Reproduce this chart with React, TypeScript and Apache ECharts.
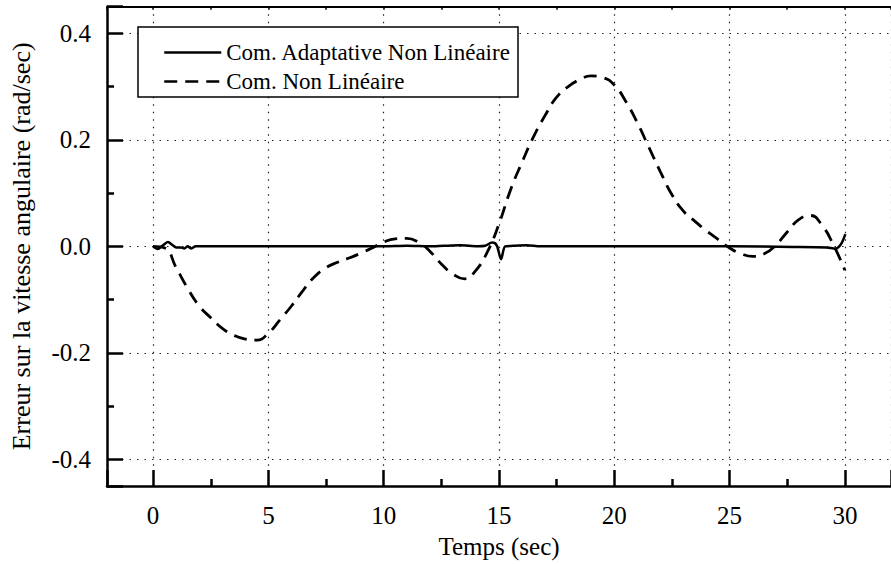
import React, { useEffect, useRef } from "react";
import * as echarts from "echarts";

const FONT = "Liberation Serif";

const seriesNames = ["Com. Adaptative Non Linéaire", "Com. Non Linéaire"];

// Com. Adaptative Non Linéaire (solid)
const adaptT = [0, 0.2, 0.4, 0.64, 0.85, 1.0, 1.2, 1.35, 1.5, 1.64, 1.85, 2.2, 5, 10, 11, 12, 12.6, 13.3, 13.7, 14.1, 14.4, 14.7, 14.9, 15.09, 15.27, 15.6, 16.2, 16.8, 20, 25, 27.8, 29.2, 29.6, 29.83, 30.02];
const adaptV = [0, -0.005, 0.001, 0.008, 0.002, -0.002, -0.002, -0.004, 0, -0.004, 0, 0, 0, 0, 0.001, 0, 0.001, 0.002, 0.001, 0, 0.001, 0.007, 0.002, -0.024, 0, 0.001, 0.002, 0, 0, 0, -0.001, -0.002, -0.004, 0.004, 0.023];

// Com. Non Linéaire (dashed)
const nonlinT = [0, 0.5, 1.0, 1.5, 2.0, 2.5, 3.0, 3.5, 4.0, 4.5, 5.0, 5.5, 6.0, 6.5, 7.0, 7.5, 8.0, 8.5, 9.0, 9.5, 10.0, 10.5, 11.0, 11.5, 12.0, 12.5, 13.0, 13.5, 14.0, 14.5, 15.0, 15.5, 16.0, 16.5, 17.0, 17.5, 18.0, 18.5, 19.0, 19.5, 20.0, 20.5, 21.0, 21.5, 22.0, 22.5, 23.0, 23.5, 24.0, 24.5, 25.0, 25.5, 26.0, 26.5, 27.0, 27.5, 28.0, 28.5, 29.0, 29.5, 30.0];
const nonlinV = [0, -0.003, -0.04, -0.079, -0.112, -0.134, -0.154, -0.167, -0.174, -0.176, -0.163, -0.138, -0.112, -0.083, -0.057, -0.04, -0.03, -0.022, -0.013, -0.003, 0.008, 0.014, 0.015, 0.008, -0.009, -0.033, -0.052, -0.061, -0.045, -0.01, 0.042, 0.106, 0.158, 0.206, 0.246, 0.28, 0.3, 0.313, 0.32, 0.317, 0.303, 0.272, 0.232, 0.186, 0.14, 0.097, 0.066, 0.047, 0.029, 0.013, -0.003, -0.014, -0.019, -0.014, 0.002, 0.027, 0.05, 0.058, 0.04, 0.003, -0.045];

const xTitle = "Temps (sec)";
const yTitle = "Erreur sur la vitesse angulaire (rad/sec)";

export default function App() {
  const ref = useRef<HTMLDivElement>(null);
  useEffect(() => {
    if (!ref.current) return;
    const chart = echarts.init(ref.current, null, { renderer: "svg" });
    const black = "#000";
    const grid = { type: [1.5, 6], color: "#222", width: 1.2 };
    chart.setOption({
      animation: false,
      backgroundColor: "#fff",
      grid: { left: 104.5, top: 6.7, right: -8, bottom: 76.3, containLabel: false },
      graphic: [
        {
          type: "rect",
          z: 3,
          shape: { x: 138, y: 27, width: 380, height: 70 },
          style: { fill: "#fff", stroke: black, lineWidth: 1.5 },
        },
      ],
      legend: {
        orient: "vertical",
        left: 163,
        top: 41,
        padding: 0,
        itemWidth: 57,
        itemHeight: 22,
        itemGap: 6,
        z: 5,
        data: seriesNames,
        lineStyle: { width: 2.5 },
        itemStyle: { color: "rgba(0,0,0,0)", borderWidth: 0, opacity: 0 },
        textStyle: { fontFamily: FONT, fontSize: 23, color: black, lineHeight: 22 },
      },
      xAxis: [
        {
          type: "value",
          position: "bottom",
          min: -2,
          max: 32,
          splitNumber: 5,
          name: xTitle,
          nameLocation: "middle",
          nameGap: 48,
          nameTextStyle: { fontFamily: FONT, fontSize: 25, color: black },
          axisLine: { onZero: false, lineStyle: { color: black, width: 2.5 } },
          axisTick: { inside: true, length: 16, lineStyle: { color: black, width: 2.5 } },
          minorTick: { show: true, splitNumber: 2, length: 7, lineStyle: { color: black, width: 2.5 } },
          splitLine: { show: true, lineStyle: grid },
          axisLabel: {
            margin: 17,
            fontFamily: FONT,
            fontSize: 25,
            color: black,
            showMinLabel: false,
            showMaxLabel: false,
            formatter: (v: number) => String(v),
          },
        },
        {
          type: "value",
          position: "top",
          min: -2,
          max: 32,
          splitNumber: 5,
          axisLine: { onZero: false, lineStyle: { color: black, width: 2 } },
          axisTick: { inside: true, length: 3, lineStyle: { color: black, width: 1.5 } },
          minorTick: { show: true, splitNumber: 2, length: 3, lineStyle: { color: black, width: 1.5 } },
          splitLine: { show: false },
          axisLabel: { show: false },
        },
      ],
      yAxis: {
        type: "value",
        position: "left",
        min: -0.45,
        max: 0.45,
        splitNumber: 5,
        name: yTitle,
        nameLocation: "middle",
        nameGap: 73,
        nameTextStyle: { fontFamily: FONT, fontSize: 26, color: black },
        axisLine: { onZero: false, lineStyle: { color: black, width: 2.5 } },
        axisTick: { inside: true, length: 16, lineStyle: { color: black, width: 2.5 } },
        minorTick: { show: true, splitNumber: 2, length: 7, lineStyle: { color: black, width: 2.5 } },
        splitLine: { show: true, lineStyle: grid },
        axisLabel: {
          margin: 16,
          fontFamily: FONT,
          fontSize: 25,
          color: black,
          showMinLabel: false,
          showMaxLabel: false,
          formatter: (v: number) => v.toFixed(1),
        },
      },
      series: [
        {
          name: seriesNames[0],
          type: "line",
          xAxisIndex: 0,
          symbol: "none",
          smooth: 0.3,
          z: 2,
          data: adaptT.map((t, i) => [t, adaptV[i]]),
          lineStyle: { color: black, width: 2.5, type: "solid" },
          itemStyle: { color: black },
        },
        {
          name: seriesNames[1],
          type: "line",
          xAxisIndex: 0,
          symbol: "none",
          smooth: 0.5,
          z: 2,
          data: nonlinT.map((t, i) => [t, nonlinV[i]]),
          lineStyle: { color: black, width: 2.8, type: [13, 8] },
          itemStyle: { color: black },
        },
      ],
    });
    return () => chart.dispose();
  }, []);
  return (
    <div
      ref={ref}
      style={{ position: "fixed", left: 0, top: 0, width: 891, height: 564, background: "#fff" }}
    />
  );
}
